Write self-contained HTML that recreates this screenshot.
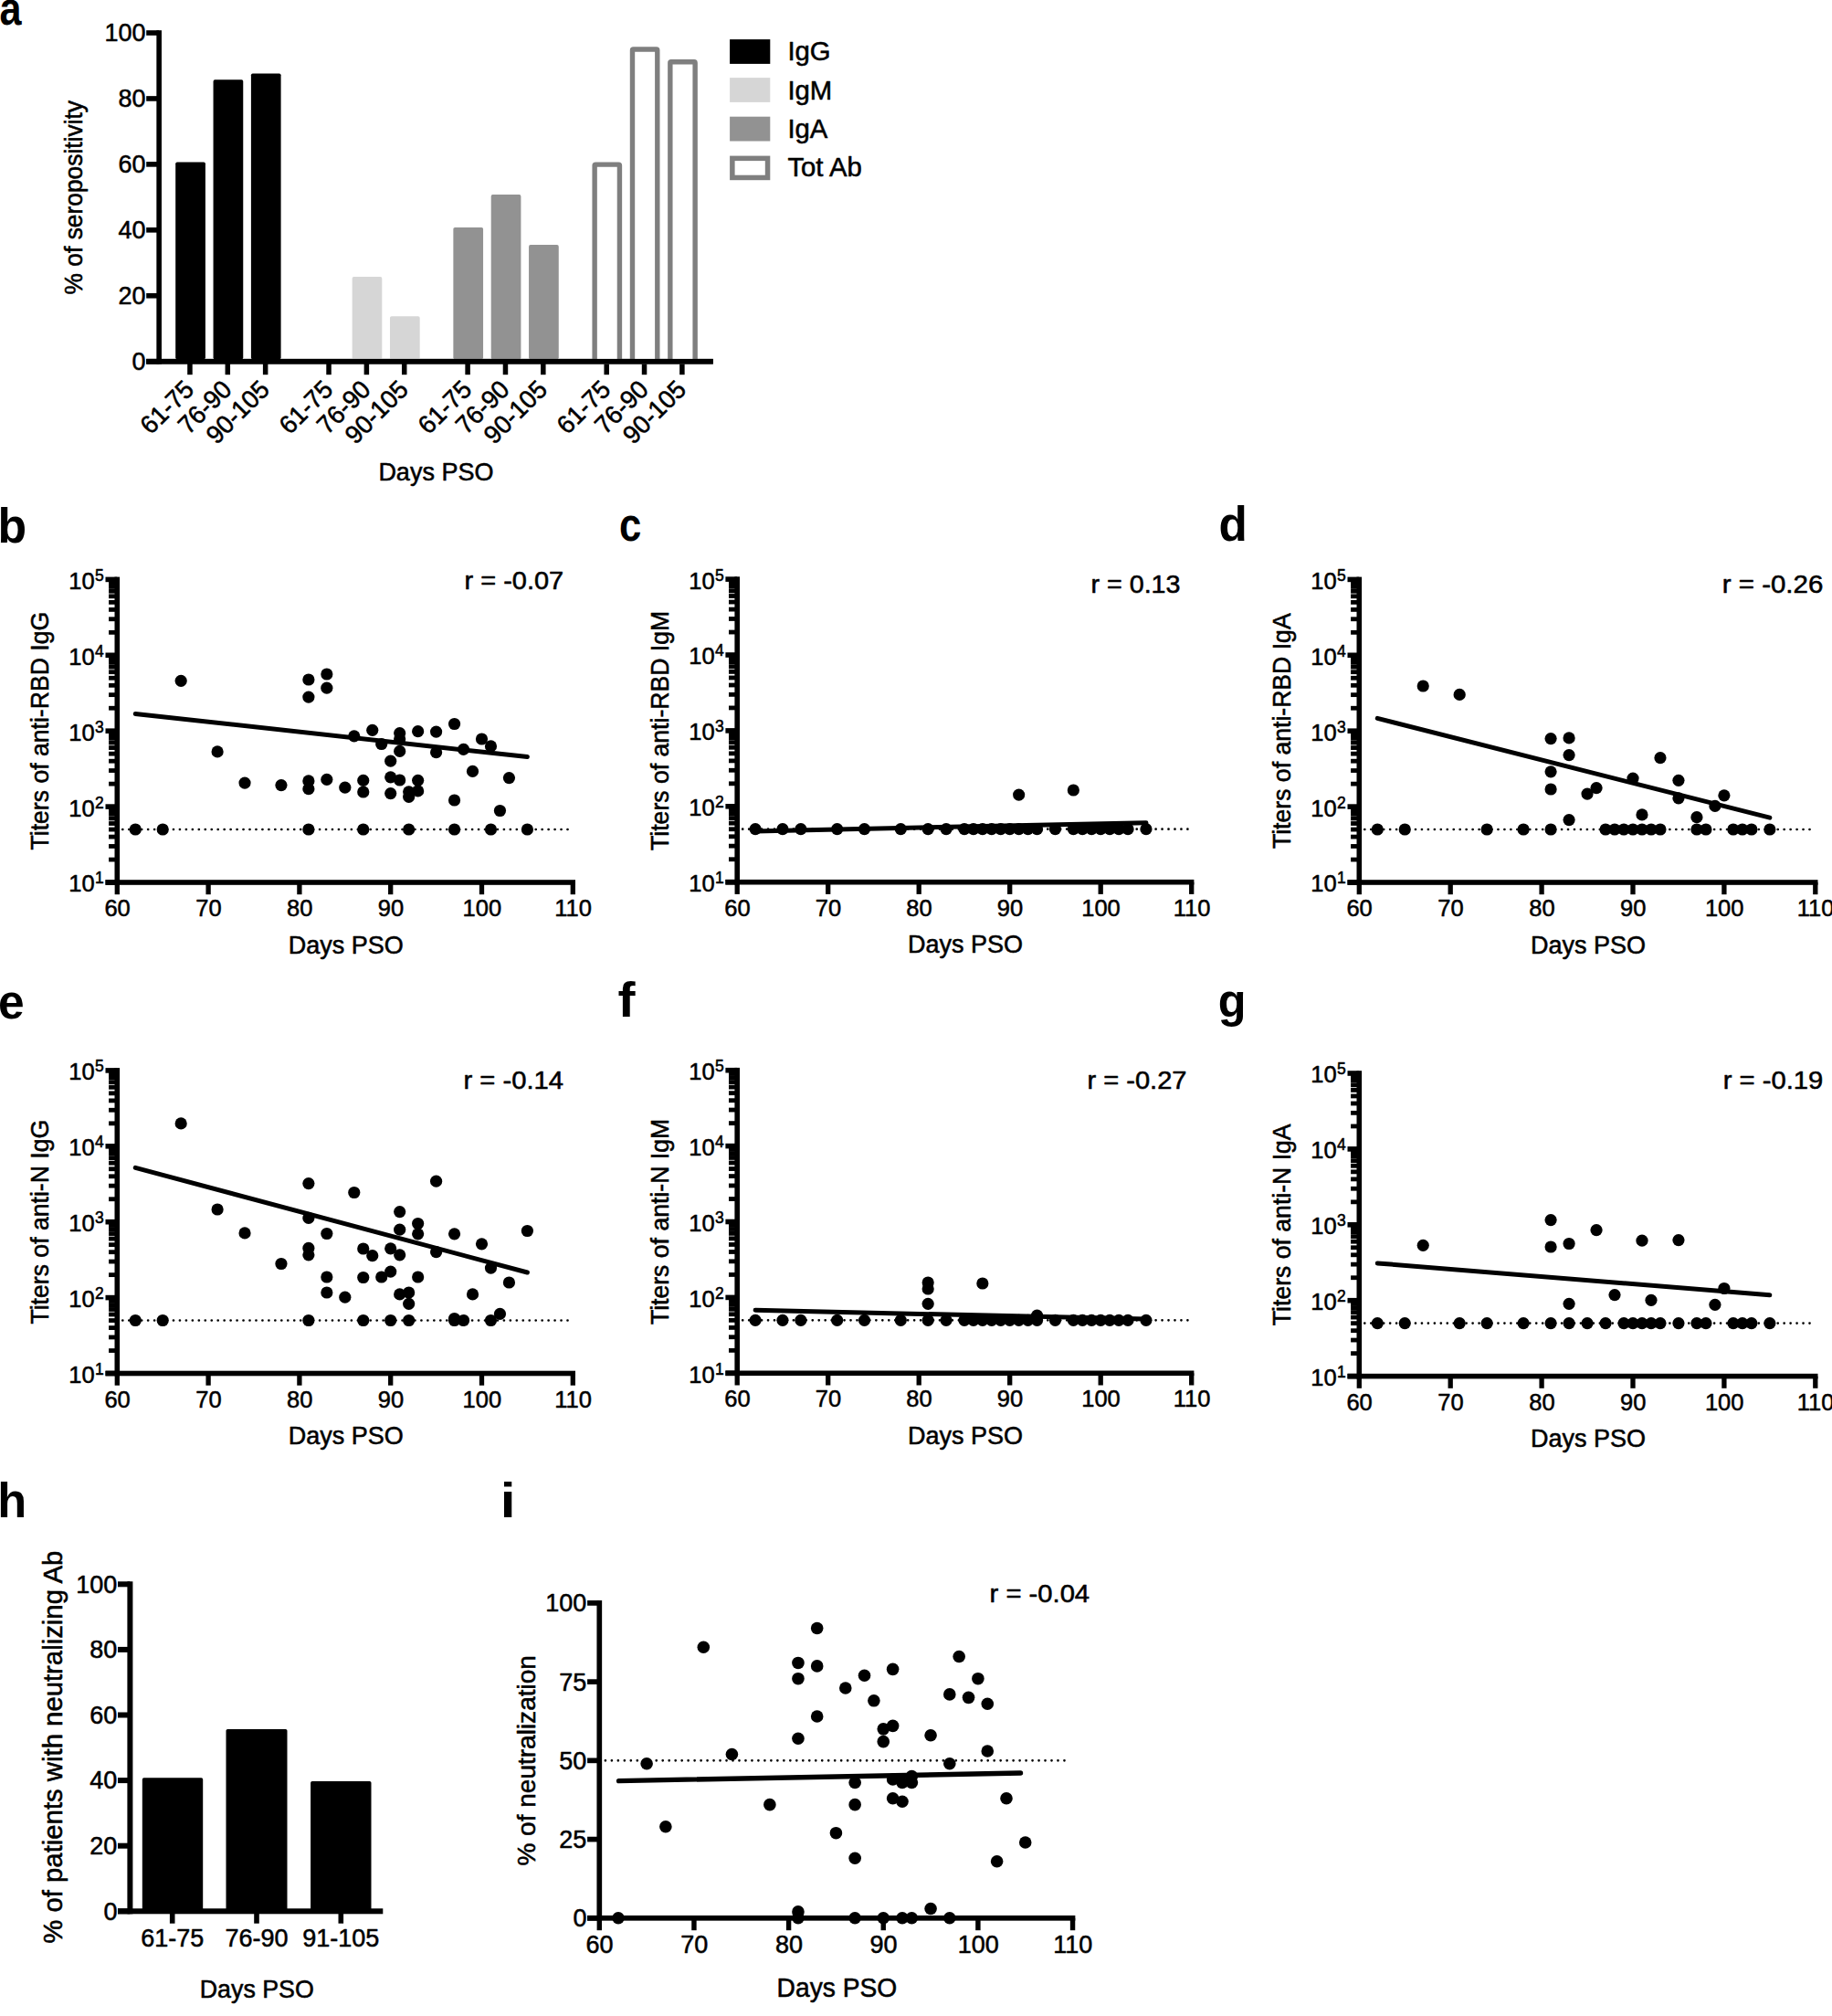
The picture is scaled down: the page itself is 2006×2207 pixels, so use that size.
<!DOCTYPE html>
<html lang="en">
<head>
<meta charset="utf-8">
<title>Figure</title>
<style>
html,body{margin:0;padding:0;background:#fff;overflow:hidden;}
svg{display:block;}
text{font-family:"Liberation Sans", Arial, Helvetica, sans-serif;fill:#000;stroke:#000;stroke-width:0.55px;stroke-linejoin:round;}
text.pl{stroke:none;}
</style>
</head>
<body>
<svg width="2006" height="2207" viewBox="0 0 2006 2207">
<rect width="2006" height="2207" fill="#fff"/>
<rect x="171.35" y="33.2" width="5.6" height="365.3" fill="#000"/>
<rect x="160.2" y="392.9" width="620.6" height="5.6" fill="#000"/>
<rect x="160.2" y="392.9" width="13.95" height="5.6" fill="#000"/>
<text x="159.6" y="404.9" font-size="27.94" text-anchor="end" textLength="15.02" lengthAdjust="spacingAndGlyphs">0</text>
<rect x="160.2" y="320.96" width="13.95" height="5.6" fill="#000"/>
<text x="159.6" y="332.96" font-size="27.94" text-anchor="end" textLength="30.03" lengthAdjust="spacingAndGlyphs">20</text>
<rect x="160.2" y="249.02" width="13.95" height="5.6" fill="#000"/>
<text x="159.6" y="261.02" font-size="27.94" text-anchor="end" textLength="30.03" lengthAdjust="spacingAndGlyphs">40</text>
<rect x="160.2" y="177.08" width="13.95" height="5.6" fill="#000"/>
<text x="159.6" y="189.08" font-size="27.94" text-anchor="end" textLength="30.03" lengthAdjust="spacingAndGlyphs">60</text>
<rect x="160.2" y="105.14" width="13.95" height="5.6" fill="#000"/>
<text x="159.6" y="117.14" font-size="27.94" text-anchor="end" textLength="30.03" lengthAdjust="spacingAndGlyphs">80</text>
<rect x="160.2" y="33.2" width="13.95" height="5.6" fill="#000"/>
<text x="159.6" y="45.2" font-size="27.94" text-anchor="end" textLength="45.05" lengthAdjust="spacingAndGlyphs">100</text>
<rect x="205.2" y="395.7" width="5.5" height="14.5" fill="#000"/>
<text x="213.95" y="428" font-size="27.94" text-anchor="end" transform="rotate(-45 213.95 428)" textLength="69.06" lengthAdjust="spacingAndGlyphs">61-75</text>
<rect x="192.2" y="177.4" width="32.7" height="216" fill="#000000" rx="1.8"/>
<rect x="246.55" y="395.7" width="5.5" height="14.5" fill="#000"/>
<text x="255.3" y="428" font-size="27.94" text-anchor="end" transform="rotate(-45 255.3 428)" textLength="69.06" lengthAdjust="spacingAndGlyphs">76-90</text>
<rect x="233.55" y="87.2" width="32.7" height="306.2" fill="#000000" rx="1.8"/>
<rect x="287.9" y="395.7" width="5.5" height="14.5" fill="#000"/>
<text x="296.65" y="428" font-size="27.94" text-anchor="end" transform="rotate(-45 296.65 428)" textLength="84.08" lengthAdjust="spacingAndGlyphs">90-105</text>
<rect x="274.9" y="80.5" width="32.7" height="312.9" fill="#000000" rx="1.8"/>
<rect x="357.28" y="395.7" width="5.5" height="14.5" fill="#000"/>
<text x="366.03" y="428" font-size="27.94" text-anchor="end" transform="rotate(-45 366.03 428)" textLength="69.06" lengthAdjust="spacingAndGlyphs">61-75</text>
<rect x="398.63" y="395.7" width="5.5" height="14.5" fill="#000"/>
<text x="407.38" y="428" font-size="27.94" text-anchor="end" transform="rotate(-45 407.38 428)" textLength="69.06" lengthAdjust="spacingAndGlyphs">76-90</text>
<rect x="385.63" y="303.1" width="32.7" height="90.3" fill="#d6d6d6" rx="1.8"/>
<rect x="439.98" y="395.7" width="5.5" height="14.5" fill="#000"/>
<text x="448.73" y="428" font-size="27.94" text-anchor="end" transform="rotate(-45 448.73 428)" textLength="84.08" lengthAdjust="spacingAndGlyphs">90-105</text>
<rect x="426.98" y="346.2" width="32.7" height="47.2" fill="#d6d6d6" rx="1.8"/>
<rect x="509.36" y="395.7" width="5.5" height="14.5" fill="#000"/>
<text x="518.11" y="428" font-size="27.94" text-anchor="end" transform="rotate(-45 518.11 428)" textLength="69.06" lengthAdjust="spacingAndGlyphs">61-75</text>
<rect x="496.36" y="248.9" width="32.7" height="144.5" fill="#929292" rx="1.8"/>
<rect x="550.71" y="395.7" width="5.5" height="14.5" fill="#000"/>
<text x="559.46" y="428" font-size="27.94" text-anchor="end" transform="rotate(-45 559.46 428)" textLength="69.06" lengthAdjust="spacingAndGlyphs">76-90</text>
<rect x="537.71" y="213.1" width="32.7" height="180.3" fill="#929292" rx="1.8"/>
<rect x="592.06" y="395.7" width="5.5" height="14.5" fill="#000"/>
<text x="600.81" y="428" font-size="27.94" text-anchor="end" transform="rotate(-45 600.81 428)" textLength="84.08" lengthAdjust="spacingAndGlyphs">90-105</text>
<rect x="579.06" y="268.1" width="32.7" height="125.3" fill="#929292" rx="1.8"/>
<rect x="661.44" y="395.7" width="5.5" height="14.5" fill="#000"/>
<text x="670.19" y="428" font-size="27.94" text-anchor="end" transform="rotate(-45 670.19 428)" textLength="69.06" lengthAdjust="spacingAndGlyphs">61-75</text>
<rect x="651.14" y="180.1" width="27.3" height="215.6" fill="#fff" stroke="#7f7f7f" stroke-width="5.4" rx="1"/>
<rect x="702.79" y="395.7" width="5.5" height="14.5" fill="#000"/>
<text x="711.54" y="428" font-size="27.94" text-anchor="end" transform="rotate(-45 711.54 428)" textLength="69.06" lengthAdjust="spacingAndGlyphs">76-90</text>
<rect x="692.49" y="54" width="27.3" height="341.7" fill="#fff" stroke="#7f7f7f" stroke-width="5.4" rx="1"/>
<rect x="744.14" y="395.7" width="5.5" height="14.5" fill="#000"/>
<text x="752.89" y="428" font-size="27.94" text-anchor="end" transform="rotate(-45 752.89 428)" textLength="84.08" lengthAdjust="spacingAndGlyphs">90-105</text>
<rect x="733.84" y="67.7" width="27.3" height="328" fill="#fff" stroke="#7f7f7f" stroke-width="5.4" rx="1"/>
<rect x="160.2" y="392.9" width="620.6" height="5.6" fill="#000"/>
<rect x="799.1" y="43.1" width="44.2" height="26.8" fill="#000000"/>
<text x="862.4" y="66.2" font-size="29.89" textLength="47.23" lengthAdjust="spacingAndGlyphs">IgG</text>
<rect x="799.1" y="85.1" width="44.2" height="26.8" fill="#d6d6d6"/>
<text x="862.4" y="108.5" font-size="29.89" textLength="48.84" lengthAdjust="spacingAndGlyphs">IgM</text>
<rect x="799.1" y="127.7" width="44.2" height="26.8" fill="#929292"/>
<text x="862.4" y="150.8" font-size="29.89" textLength="43.98" lengthAdjust="spacingAndGlyphs">IgA</text>
<rect x="801.85" y="173.35" width="38.7" height="21.1" fill="#fff" stroke="#7f7f7f" stroke-width="5.5"/>
<text x="862.4" y="193.1" font-size="29.89" textLength="81.45" lengthAdjust="spacingAndGlyphs">Tot Ab</text>
<text x="477.4" y="525.8" font-size="27.54" text-anchor="middle" textLength="126.04" lengthAdjust="spacingAndGlyphs">Days PSO</text>
<text x="90" y="216.2" font-size="27.54" text-anchor="middle" transform="rotate(-90 90 216.2)" textLength="212.5" lengthAdjust="spacingAndGlyphs">% of seropositivity</text>
<text class="pl" transform="translate(-0.38 26.6) scale(0.83 1)" font-size="52" font-weight="bold">a</text>
<rect x="125.5" y="631.6" width="5.6" height="337.2" fill="#000"/>
<rect x="115.5" y="963.2" width="514.5" height="5.6" fill="#000"/>
<rect x="115.5" y="963.2" width="12.8" height="5.6" fill="#000"/>
<text x="103.7" y="976.4" font-size="26.39" text-anchor="end" textLength="28.36" lengthAdjust="spacingAndGlyphs">10</text>
<text x="104" y="967.4" font-size="18.11" textLength="9.73" lengthAdjust="spacingAndGlyphs">1</text>
<rect x="119.1" y="938.64" width="9.2" height="4.8" fill="#000"/>
<rect x="119.1" y="924.05" width="9.2" height="4.8" fill="#000"/>
<rect x="119.1" y="913.69" width="9.2" height="4.8" fill="#000"/>
<rect x="119.1" y="905.66" width="9.2" height="4.8" fill="#000"/>
<rect x="119.1" y="899.09" width="9.2" height="4.8" fill="#000"/>
<rect x="119.1" y="893.54" width="9.2" height="4.8" fill="#000"/>
<rect x="119.1" y="888.73" width="9.2" height="4.8" fill="#000"/>
<rect x="119.1" y="884.49" width="9.2" height="4.8" fill="#000"/>
<rect x="115.5" y="880.3" width="12.8" height="5.6" fill="#000"/>
<text x="103.7" y="893.5" font-size="26.39" text-anchor="end" textLength="28.36" lengthAdjust="spacingAndGlyphs">10</text>
<text x="104" y="884.5" font-size="18.11" textLength="9.73" lengthAdjust="spacingAndGlyphs">2</text>
<rect x="119.1" y="855.74" width="9.2" height="4.8" fill="#000"/>
<rect x="119.1" y="841.15" width="9.2" height="4.8" fill="#000"/>
<rect x="119.1" y="830.79" width="9.2" height="4.8" fill="#000"/>
<rect x="119.1" y="822.76" width="9.2" height="4.8" fill="#000"/>
<rect x="119.1" y="816.19" width="9.2" height="4.8" fill="#000"/>
<rect x="119.1" y="810.64" width="9.2" height="4.8" fill="#000"/>
<rect x="119.1" y="805.83" width="9.2" height="4.8" fill="#000"/>
<rect x="119.1" y="801.59" width="9.2" height="4.8" fill="#000"/>
<rect x="115.5" y="797.4" width="12.8" height="5.6" fill="#000"/>
<text x="103.7" y="810.6" font-size="26.39" text-anchor="end" textLength="28.36" lengthAdjust="spacingAndGlyphs">10</text>
<text x="104" y="801.6" font-size="18.11" textLength="9.73" lengthAdjust="spacingAndGlyphs">3</text>
<rect x="119.1" y="772.84" width="9.2" height="4.8" fill="#000"/>
<rect x="119.1" y="758.25" width="9.2" height="4.8" fill="#000"/>
<rect x="119.1" y="747.89" width="9.2" height="4.8" fill="#000"/>
<rect x="119.1" y="739.86" width="9.2" height="4.8" fill="#000"/>
<rect x="119.1" y="733.29" width="9.2" height="4.8" fill="#000"/>
<rect x="119.1" y="727.74" width="9.2" height="4.8" fill="#000"/>
<rect x="119.1" y="722.93" width="9.2" height="4.8" fill="#000"/>
<rect x="119.1" y="718.69" width="9.2" height="4.8" fill="#000"/>
<rect x="115.5" y="714.5" width="12.8" height="5.6" fill="#000"/>
<text x="103.7" y="727.7" font-size="26.39" text-anchor="end" textLength="28.36" lengthAdjust="spacingAndGlyphs">10</text>
<text x="104" y="718.7" font-size="18.11" textLength="9.73" lengthAdjust="spacingAndGlyphs">4</text>
<rect x="119.1" y="689.94" width="9.2" height="4.8" fill="#000"/>
<rect x="119.1" y="675.35" width="9.2" height="4.8" fill="#000"/>
<rect x="119.1" y="664.99" width="9.2" height="4.8" fill="#000"/>
<rect x="119.1" y="656.96" width="9.2" height="4.8" fill="#000"/>
<rect x="119.1" y="650.39" width="9.2" height="4.8" fill="#000"/>
<rect x="119.1" y="644.84" width="9.2" height="4.8" fill="#000"/>
<rect x="119.1" y="640.03" width="9.2" height="4.8" fill="#000"/>
<rect x="119.1" y="635.79" width="9.2" height="4.8" fill="#000"/>
<rect x="115.5" y="631.6" width="12.8" height="5.6" fill="#000"/>
<text x="103.7" y="644.8" font-size="26.39" text-anchor="end" textLength="28.36" lengthAdjust="spacingAndGlyphs">10</text>
<text x="104" y="635.8" font-size="18.11" textLength="9.73" lengthAdjust="spacingAndGlyphs">5</text>
<rect x="125.65" y="966" width="5.3" height="13.2" fill="#000"/>
<text x="128.6" y="1003" font-size="26.39" text-anchor="middle" textLength="28.36" lengthAdjust="spacingAndGlyphs">60</text>
<rect x="225.45" y="966" width="5.3" height="13.2" fill="#000"/>
<text x="228.4" y="1003" font-size="26.39" text-anchor="middle" textLength="28.36" lengthAdjust="spacingAndGlyphs">70</text>
<rect x="325.25" y="966" width="5.3" height="13.2" fill="#000"/>
<text x="328.2" y="1003" font-size="26.39" text-anchor="middle" textLength="28.36" lengthAdjust="spacingAndGlyphs">80</text>
<rect x="425.05" y="966" width="5.3" height="13.2" fill="#000"/>
<text x="428" y="1003" font-size="26.39" text-anchor="middle" textLength="28.36" lengthAdjust="spacingAndGlyphs">90</text>
<rect x="524.85" y="966" width="5.3" height="13.2" fill="#000"/>
<text x="527.8" y="1003" font-size="26.39" text-anchor="middle" textLength="42.55" lengthAdjust="spacingAndGlyphs">100</text>
<rect x="624.65" y="966" width="5.3" height="13.2" fill="#000"/>
<text x="627.6" y="1003" font-size="26.39" text-anchor="middle" textLength="40.65" lengthAdjust="spacingAndGlyphs">110</text>
<text x="378.8" y="1043.6" font-size="27.54" text-anchor="middle" textLength="126.04" lengthAdjust="spacingAndGlyphs">Days PSO</text>
<text x="53.3" y="800.2" font-size="27.13" text-anchor="middle" transform="rotate(-90 53.3 800.2)" textLength="260.65" lengthAdjust="spacingAndGlyphs">Titers of anti-RBD IgG</text>
<text x="508.6" y="644.8" font-size="27.54" textLength="108.5" lengthAdjust="spacingAndGlyphs">r = -0.07</text>
<line x1="134.3" y1="908" x2="623.8" y2="908" stroke="#000" stroke-width="2.7" stroke-linecap="round" stroke-dasharray="0.01 6.95"/>
<circle cx="148.26" cy="908" r="6.6"/>
<circle cx="178.2" cy="908" r="6.6"/>
<circle cx="337.88" cy="908" r="6.6"/>
<circle cx="397.76" cy="908" r="6.6"/>
<circle cx="447.66" cy="908" r="6.6"/>
<circle cx="497.56" cy="908" r="6.6"/>
<circle cx="537.48" cy="908" r="6.6"/>
<circle cx="577.4" cy="908" r="6.6"/>
<circle cx="198.16" cy="745.3" r="6.6"/>
<circle cx="337.88" cy="744" r="6.6"/>
<circle cx="357.84" cy="738" r="6.6"/>
<circle cx="357.84" cy="753.2" r="6.6"/>
<circle cx="337.88" cy="763.1" r="6.6"/>
<circle cx="387.78" cy="805.8" r="6.6"/>
<circle cx="238.08" cy="822.9" r="6.6"/>
<circle cx="268.02" cy="857.1" r="6.6"/>
<circle cx="307.94" cy="859.6" r="6.6"/>
<circle cx="337.88" cy="854.9" r="6.6"/>
<circle cx="337.88" cy="863.7" r="6.6"/>
<circle cx="357.84" cy="853.4" r="6.6"/>
<circle cx="377.8" cy="862.2" r="6.6"/>
<circle cx="397.76" cy="854.4" r="6.6"/>
<circle cx="397.76" cy="867" r="6.6"/>
<circle cx="407.74" cy="799.3" r="6.6"/>
<circle cx="417.72" cy="814.5" r="6.6"/>
<circle cx="437.68" cy="802.6" r="6.6"/>
<circle cx="437.68" cy="809" r="6.6"/>
<circle cx="437.68" cy="822.4" r="6.6"/>
<circle cx="457.64" cy="800.7" r="6.6"/>
<circle cx="477.6" cy="801.1" r="6.6"/>
<circle cx="477.6" cy="823.7" r="6.6"/>
<circle cx="497.56" cy="792.5" r="6.6"/>
<circle cx="507.54" cy="820.4" r="6.6"/>
<circle cx="527.5" cy="809" r="6.6"/>
<circle cx="537.48" cy="816.9" r="6.6"/>
<circle cx="427.7" cy="833.2" r="6.6"/>
<circle cx="427.7" cy="850.8" r="6.6"/>
<circle cx="437.68" cy="854" r="6.6"/>
<circle cx="457.64" cy="854.3" r="6.6"/>
<circle cx="457.64" cy="865.9" r="6.6"/>
<circle cx="427.7" cy="868.6" r="6.6"/>
<circle cx="447.66" cy="866.8" r="6.6"/>
<circle cx="447.66" cy="872.3" r="6.6"/>
<circle cx="497.56" cy="876" r="6.6"/>
<circle cx="517.52" cy="844.4" r="6.6"/>
<circle cx="557.44" cy="851.6" r="6.6"/>
<circle cx="547.46" cy="887.5" r="6.6"/>
<line x1="148.26" y1="781.5" x2="577.4" y2="828.6" stroke="#000" stroke-width="5" stroke-linecap="round"/>
<text class="pl" transform="translate(-2.54 593.7) scale(0.95 1)" font-size="54.5" font-weight="bold">b</text>
<rect x="804.4" y="631.3" width="5.6" height="337.2" fill="#000"/>
<rect x="794.4" y="962.9" width="513" height="5.6" fill="#000"/>
<rect x="794.4" y="962.9" width="12.8" height="5.6" fill="#000"/>
<text x="782.6" y="976.1" font-size="26.39" text-anchor="end" textLength="28.36" lengthAdjust="spacingAndGlyphs">10</text>
<text x="782.9" y="967.1" font-size="18.11" textLength="9.73" lengthAdjust="spacingAndGlyphs">1</text>
<rect x="798" y="938.34" width="9.2" height="4.8" fill="#000"/>
<rect x="798" y="923.75" width="9.2" height="4.8" fill="#000"/>
<rect x="798" y="913.39" width="9.2" height="4.8" fill="#000"/>
<rect x="798" y="905.36" width="9.2" height="4.8" fill="#000"/>
<rect x="798" y="898.79" width="9.2" height="4.8" fill="#000"/>
<rect x="798" y="893.24" width="9.2" height="4.8" fill="#000"/>
<rect x="798" y="888.43" width="9.2" height="4.8" fill="#000"/>
<rect x="798" y="884.19" width="9.2" height="4.8" fill="#000"/>
<rect x="794.4" y="880" width="12.8" height="5.6" fill="#000"/>
<text x="782.6" y="893.2" font-size="26.39" text-anchor="end" textLength="28.36" lengthAdjust="spacingAndGlyphs">10</text>
<text x="782.9" y="884.2" font-size="18.11" textLength="9.73" lengthAdjust="spacingAndGlyphs">2</text>
<rect x="798" y="855.44" width="9.2" height="4.8" fill="#000"/>
<rect x="798" y="840.85" width="9.2" height="4.8" fill="#000"/>
<rect x="798" y="830.49" width="9.2" height="4.8" fill="#000"/>
<rect x="798" y="822.46" width="9.2" height="4.8" fill="#000"/>
<rect x="798" y="815.89" width="9.2" height="4.8" fill="#000"/>
<rect x="798" y="810.34" width="9.2" height="4.8" fill="#000"/>
<rect x="798" y="805.53" width="9.2" height="4.8" fill="#000"/>
<rect x="798" y="801.29" width="9.2" height="4.8" fill="#000"/>
<rect x="794.4" y="797.1" width="12.8" height="5.6" fill="#000"/>
<text x="782.6" y="810.3" font-size="26.39" text-anchor="end" textLength="28.36" lengthAdjust="spacingAndGlyphs">10</text>
<text x="782.9" y="801.3" font-size="18.11" textLength="9.73" lengthAdjust="spacingAndGlyphs">3</text>
<rect x="798" y="772.54" width="9.2" height="4.8" fill="#000"/>
<rect x="798" y="757.95" width="9.2" height="4.8" fill="#000"/>
<rect x="798" y="747.59" width="9.2" height="4.8" fill="#000"/>
<rect x="798" y="739.56" width="9.2" height="4.8" fill="#000"/>
<rect x="798" y="732.99" width="9.2" height="4.8" fill="#000"/>
<rect x="798" y="727.44" width="9.2" height="4.8" fill="#000"/>
<rect x="798" y="722.63" width="9.2" height="4.8" fill="#000"/>
<rect x="798" y="718.39" width="9.2" height="4.8" fill="#000"/>
<rect x="794.4" y="714.2" width="12.8" height="5.6" fill="#000"/>
<text x="782.6" y="727.4" font-size="26.39" text-anchor="end" textLength="28.36" lengthAdjust="spacingAndGlyphs">10</text>
<text x="782.9" y="718.4" font-size="18.11" textLength="9.73" lengthAdjust="spacingAndGlyphs">4</text>
<rect x="798" y="689.64" width="9.2" height="4.8" fill="#000"/>
<rect x="798" y="675.05" width="9.2" height="4.8" fill="#000"/>
<rect x="798" y="664.69" width="9.2" height="4.8" fill="#000"/>
<rect x="798" y="656.66" width="9.2" height="4.8" fill="#000"/>
<rect x="798" y="650.09" width="9.2" height="4.8" fill="#000"/>
<rect x="798" y="644.54" width="9.2" height="4.8" fill="#000"/>
<rect x="798" y="639.73" width="9.2" height="4.8" fill="#000"/>
<rect x="798" y="635.49" width="9.2" height="4.8" fill="#000"/>
<rect x="794.4" y="631.3" width="12.8" height="5.6" fill="#000"/>
<text x="782.6" y="644.5" font-size="26.39" text-anchor="end" textLength="28.36" lengthAdjust="spacingAndGlyphs">10</text>
<text x="782.9" y="635.5" font-size="18.11" textLength="9.73" lengthAdjust="spacingAndGlyphs">5</text>
<rect x="804.55" y="965.7" width="5.3" height="13.2" fill="#000"/>
<text x="807.5" y="1002.7" font-size="26.39" text-anchor="middle" textLength="28.36" lengthAdjust="spacingAndGlyphs">60</text>
<rect x="904.05" y="965.7" width="5.3" height="13.2" fill="#000"/>
<text x="907" y="1002.7" font-size="26.39" text-anchor="middle" textLength="28.36" lengthAdjust="spacingAndGlyphs">70</text>
<rect x="1003.55" y="965.7" width="5.3" height="13.2" fill="#000"/>
<text x="1006.5" y="1002.7" font-size="26.39" text-anchor="middle" textLength="28.36" lengthAdjust="spacingAndGlyphs">80</text>
<rect x="1103.05" y="965.7" width="5.3" height="13.2" fill="#000"/>
<text x="1106" y="1002.7" font-size="26.39" text-anchor="middle" textLength="28.36" lengthAdjust="spacingAndGlyphs">90</text>
<rect x="1202.55" y="965.7" width="5.3" height="13.2" fill="#000"/>
<text x="1205.5" y="1002.7" font-size="26.39" text-anchor="middle" textLength="42.55" lengthAdjust="spacingAndGlyphs">100</text>
<rect x="1302.05" y="965.7" width="5.3" height="13.2" fill="#000"/>
<text x="1305" y="1002.7" font-size="26.39" text-anchor="middle" textLength="40.65" lengthAdjust="spacingAndGlyphs">110</text>
<text x="1056.95" y="1043.3" font-size="27.54" text-anchor="middle" textLength="126.04" lengthAdjust="spacingAndGlyphs">Days PSO</text>
<text x="732.2" y="799.9" font-size="27.13" text-anchor="middle" transform="rotate(-90 732.2 799.9)" textLength="262.12" lengthAdjust="spacingAndGlyphs">Titers of anti-RBD IgM</text>
<text x="1194.5" y="649.4" font-size="27.54" textLength="98" lengthAdjust="spacingAndGlyphs">r = 0.13</text>
<line x1="813.2" y1="907.7" x2="1301.2" y2="907.7" stroke="#000" stroke-width="2.7" stroke-linecap="round" stroke-dasharray="0.01 6.95"/>
<circle cx="827.1" cy="907.7" r="6.6"/>
<circle cx="856.95" cy="907.7" r="6.6"/>
<circle cx="876.85" cy="907.7" r="6.6"/>
<circle cx="916.65" cy="907.7" r="6.6"/>
<circle cx="946.5" cy="907.7" r="6.6"/>
<circle cx="986.3" cy="907.7" r="6.6"/>
<circle cx="1016.15" cy="907.7" r="6.6"/>
<circle cx="1036.05" cy="907.7" r="6.6"/>
<circle cx="1055.95" cy="907.7" r="6.6"/>
<circle cx="1065.9" cy="907.7" r="6.6"/>
<circle cx="1075.85" cy="907.7" r="6.6"/>
<circle cx="1085.8" cy="907.7" r="6.6"/>
<circle cx="1095.75" cy="907.7" r="6.6"/>
<circle cx="1105.7" cy="907.7" r="6.6"/>
<circle cx="1115.65" cy="907.7" r="6.6"/>
<circle cx="1125.6" cy="907.7" r="6.6"/>
<circle cx="1135.55" cy="907.7" r="6.6"/>
<circle cx="1155.45" cy="907.7" r="6.6"/>
<circle cx="1175.35" cy="907.7" r="6.6"/>
<circle cx="1185.3" cy="907.7" r="6.6"/>
<circle cx="1195.25" cy="907.7" r="6.6"/>
<circle cx="1205.2" cy="907.7" r="6.6"/>
<circle cx="1215.15" cy="907.7" r="6.6"/>
<circle cx="1225.1" cy="907.7" r="6.6"/>
<circle cx="1235.05" cy="907.7" r="6.6"/>
<circle cx="1254.95" cy="907.7" r="6.6"/>
<circle cx="1115.65" cy="870.1" r="6.6"/>
<circle cx="1175.35" cy="865" r="6.6"/>
<line x1="827.1" y1="909.9" x2="1254.95" y2="900.7" stroke="#000" stroke-width="5" stroke-linecap="round"/>
<text class="pl" transform="translate(678 591.6) scale(0.84 1)" font-size="52" font-weight="bold">c</text>
<rect x="1485.5" y="631.6" width="5.6" height="337.2" fill="#000"/>
<rect x="1475.5" y="963.2" width="515" height="5.6" fill="#000"/>
<rect x="1475.5" y="963.2" width="12.8" height="5.6" fill="#000"/>
<text x="1463.7" y="976.4" font-size="26.39" text-anchor="end" textLength="28.36" lengthAdjust="spacingAndGlyphs">10</text>
<text x="1464" y="967.4" font-size="18.11" textLength="9.73" lengthAdjust="spacingAndGlyphs">1</text>
<rect x="1479.1" y="938.64" width="9.2" height="4.8" fill="#000"/>
<rect x="1479.1" y="924.05" width="9.2" height="4.8" fill="#000"/>
<rect x="1479.1" y="913.69" width="9.2" height="4.8" fill="#000"/>
<rect x="1479.1" y="905.66" width="9.2" height="4.8" fill="#000"/>
<rect x="1479.1" y="899.09" width="9.2" height="4.8" fill="#000"/>
<rect x="1479.1" y="893.54" width="9.2" height="4.8" fill="#000"/>
<rect x="1479.1" y="888.73" width="9.2" height="4.8" fill="#000"/>
<rect x="1479.1" y="884.49" width="9.2" height="4.8" fill="#000"/>
<rect x="1475.5" y="880.3" width="12.8" height="5.6" fill="#000"/>
<text x="1463.7" y="893.5" font-size="26.39" text-anchor="end" textLength="28.36" lengthAdjust="spacingAndGlyphs">10</text>
<text x="1464" y="884.5" font-size="18.11" textLength="9.73" lengthAdjust="spacingAndGlyphs">2</text>
<rect x="1479.1" y="855.74" width="9.2" height="4.8" fill="#000"/>
<rect x="1479.1" y="841.15" width="9.2" height="4.8" fill="#000"/>
<rect x="1479.1" y="830.79" width="9.2" height="4.8" fill="#000"/>
<rect x="1479.1" y="822.76" width="9.2" height="4.8" fill="#000"/>
<rect x="1479.1" y="816.19" width="9.2" height="4.8" fill="#000"/>
<rect x="1479.1" y="810.64" width="9.2" height="4.8" fill="#000"/>
<rect x="1479.1" y="805.83" width="9.2" height="4.8" fill="#000"/>
<rect x="1479.1" y="801.59" width="9.2" height="4.8" fill="#000"/>
<rect x="1475.5" y="797.4" width="12.8" height="5.6" fill="#000"/>
<text x="1463.7" y="810.6" font-size="26.39" text-anchor="end" textLength="28.36" lengthAdjust="spacingAndGlyphs">10</text>
<text x="1464" y="801.6" font-size="18.11" textLength="9.73" lengthAdjust="spacingAndGlyphs">3</text>
<rect x="1479.1" y="772.84" width="9.2" height="4.8" fill="#000"/>
<rect x="1479.1" y="758.25" width="9.2" height="4.8" fill="#000"/>
<rect x="1479.1" y="747.89" width="9.2" height="4.8" fill="#000"/>
<rect x="1479.1" y="739.86" width="9.2" height="4.8" fill="#000"/>
<rect x="1479.1" y="733.29" width="9.2" height="4.8" fill="#000"/>
<rect x="1479.1" y="727.74" width="9.2" height="4.8" fill="#000"/>
<rect x="1479.1" y="722.93" width="9.2" height="4.8" fill="#000"/>
<rect x="1479.1" y="718.69" width="9.2" height="4.8" fill="#000"/>
<rect x="1475.5" y="714.5" width="12.8" height="5.6" fill="#000"/>
<text x="1463.7" y="727.7" font-size="26.39" text-anchor="end" textLength="28.36" lengthAdjust="spacingAndGlyphs">10</text>
<text x="1464" y="718.7" font-size="18.11" textLength="9.73" lengthAdjust="spacingAndGlyphs">4</text>
<rect x="1479.1" y="689.94" width="9.2" height="4.8" fill="#000"/>
<rect x="1479.1" y="675.35" width="9.2" height="4.8" fill="#000"/>
<rect x="1479.1" y="664.99" width="9.2" height="4.8" fill="#000"/>
<rect x="1479.1" y="656.96" width="9.2" height="4.8" fill="#000"/>
<rect x="1479.1" y="650.39" width="9.2" height="4.8" fill="#000"/>
<rect x="1479.1" y="644.84" width="9.2" height="4.8" fill="#000"/>
<rect x="1479.1" y="640.03" width="9.2" height="4.8" fill="#000"/>
<rect x="1479.1" y="635.79" width="9.2" height="4.8" fill="#000"/>
<rect x="1475.5" y="631.6" width="12.8" height="5.6" fill="#000"/>
<text x="1463.7" y="644.8" font-size="26.39" text-anchor="end" textLength="28.36" lengthAdjust="spacingAndGlyphs">10</text>
<text x="1464" y="635.8" font-size="18.11" textLength="9.73" lengthAdjust="spacingAndGlyphs">5</text>
<rect x="1485.65" y="966" width="5.3" height="13.2" fill="#000"/>
<text x="1488.6" y="1003" font-size="26.39" text-anchor="middle" textLength="28.36" lengthAdjust="spacingAndGlyphs">60</text>
<rect x="1585.55" y="966" width="5.3" height="13.2" fill="#000"/>
<text x="1588.5" y="1003" font-size="26.39" text-anchor="middle" textLength="28.36" lengthAdjust="spacingAndGlyphs">70</text>
<rect x="1685.45" y="966" width="5.3" height="13.2" fill="#000"/>
<text x="1688.4" y="1003" font-size="26.39" text-anchor="middle" textLength="28.36" lengthAdjust="spacingAndGlyphs">80</text>
<rect x="1785.35" y="966" width="5.3" height="13.2" fill="#000"/>
<text x="1788.3" y="1003" font-size="26.39" text-anchor="middle" textLength="28.36" lengthAdjust="spacingAndGlyphs">90</text>
<rect x="1885.25" y="966" width="5.3" height="13.2" fill="#000"/>
<text x="1888.2" y="1003" font-size="26.39" text-anchor="middle" textLength="42.55" lengthAdjust="spacingAndGlyphs">100</text>
<rect x="1985.15" y="966" width="5.3" height="13.2" fill="#000"/>
<text x="1988.1" y="1003" font-size="26.39" text-anchor="middle" textLength="40.65" lengthAdjust="spacingAndGlyphs">110</text>
<text x="1739.05" y="1043.6" font-size="27.54" text-anchor="middle" textLength="126.04" lengthAdjust="spacingAndGlyphs">Days PSO</text>
<text x="1413.3" y="800.2" font-size="27.13" text-anchor="middle" transform="rotate(-90 1413.3 800.2)" textLength="257.71" lengthAdjust="spacingAndGlyphs">Titers of anti-RBD IgA</text>
<text x="1885.8" y="649.4" font-size="27.54" textLength="110.5" lengthAdjust="spacingAndGlyphs">r = -0.26</text>
<line x1="1494.3" y1="908" x2="1984.3" y2="908" stroke="#000" stroke-width="2.7" stroke-linecap="round" stroke-dasharray="0.01 6.95"/>
<circle cx="1508.28" cy="908" r="6.6"/>
<circle cx="1538.25" cy="908" r="6.6"/>
<circle cx="1628.16" cy="908" r="6.6"/>
<circle cx="1668.12" cy="908" r="6.6"/>
<circle cx="1698.09" cy="908" r="6.6"/>
<circle cx="1758.03" cy="908" r="6.6"/>
<circle cx="1768.02" cy="908" r="6.6"/>
<circle cx="1778.01" cy="908" r="6.6"/>
<circle cx="1788" cy="908" r="6.6"/>
<circle cx="1797.99" cy="908" r="6.6"/>
<circle cx="1807.98" cy="908" r="6.6"/>
<circle cx="1817.97" cy="908" r="6.6"/>
<circle cx="1857.93" cy="908" r="6.6"/>
<circle cx="1867.92" cy="908" r="6.6"/>
<circle cx="1897.89" cy="908" r="6.6"/>
<circle cx="1907.88" cy="908" r="6.6"/>
<circle cx="1917.87" cy="908" r="6.6"/>
<circle cx="1937.85" cy="908" r="6.6"/>
<circle cx="1558.23" cy="751" r="6.6"/>
<circle cx="1598.19" cy="760.4" r="6.6"/>
<circle cx="1698.09" cy="808.6" r="6.6"/>
<circle cx="1718.07" cy="807.9" r="6.6"/>
<circle cx="1718.07" cy="826.6" r="6.6"/>
<circle cx="1698.09" cy="844.8" r="6.6"/>
<circle cx="1698.09" cy="864" r="6.6"/>
<circle cx="1738.05" cy="869.1" r="6.6"/>
<circle cx="1748.04" cy="862.6" r="6.6"/>
<circle cx="1718.07" cy="897.6" r="6.6"/>
<circle cx="1788" cy="852.1" r="6.6"/>
<circle cx="1817.97" cy="829.7" r="6.6"/>
<circle cx="1837.95" cy="854.3" r="6.6"/>
<circle cx="1837.95" cy="873.8" r="6.6"/>
<circle cx="1887.9" cy="870.8" r="6.6"/>
<circle cx="1877.91" cy="882.4" r="6.6"/>
<circle cx="1797.99" cy="891.9" r="6.6"/>
<circle cx="1857.93" cy="894.7" r="6.6"/>
<line x1="1508.28" y1="786.4" x2="1937.85" y2="895.2" stroke="#000" stroke-width="5" stroke-linecap="round"/>
<text class="pl" transform="translate(1334.51 591.7) scale(0.94 1)" font-size="54.5" font-weight="bold">d</text>
<rect x="125.5" y="1169.1" width="5.6" height="337.2" fill="#000"/>
<rect x="115.5" y="1500.7" width="514.5" height="5.6" fill="#000"/>
<rect x="115.5" y="1500.7" width="12.8" height="5.6" fill="#000"/>
<text x="103.7" y="1513.9" font-size="26.39" text-anchor="end" textLength="28.36" lengthAdjust="spacingAndGlyphs">10</text>
<text x="104" y="1504.9" font-size="18.11" textLength="9.73" lengthAdjust="spacingAndGlyphs">1</text>
<rect x="119.1" y="1476.14" width="9.2" height="4.8" fill="#000"/>
<rect x="119.1" y="1461.55" width="9.2" height="4.8" fill="#000"/>
<rect x="119.1" y="1451.19" width="9.2" height="4.8" fill="#000"/>
<rect x="119.1" y="1443.16" width="9.2" height="4.8" fill="#000"/>
<rect x="119.1" y="1436.59" width="9.2" height="4.8" fill="#000"/>
<rect x="119.1" y="1431.04" width="9.2" height="4.8" fill="#000"/>
<rect x="119.1" y="1426.23" width="9.2" height="4.8" fill="#000"/>
<rect x="119.1" y="1421.99" width="9.2" height="4.8" fill="#000"/>
<rect x="115.5" y="1417.8" width="12.8" height="5.6" fill="#000"/>
<text x="103.7" y="1431" font-size="26.39" text-anchor="end" textLength="28.36" lengthAdjust="spacingAndGlyphs">10</text>
<text x="104" y="1422" font-size="18.11" textLength="9.73" lengthAdjust="spacingAndGlyphs">2</text>
<rect x="119.1" y="1393.24" width="9.2" height="4.8" fill="#000"/>
<rect x="119.1" y="1378.65" width="9.2" height="4.8" fill="#000"/>
<rect x="119.1" y="1368.29" width="9.2" height="4.8" fill="#000"/>
<rect x="119.1" y="1360.26" width="9.2" height="4.8" fill="#000"/>
<rect x="119.1" y="1353.69" width="9.2" height="4.8" fill="#000"/>
<rect x="119.1" y="1348.14" width="9.2" height="4.8" fill="#000"/>
<rect x="119.1" y="1343.33" width="9.2" height="4.8" fill="#000"/>
<rect x="119.1" y="1339.09" width="9.2" height="4.8" fill="#000"/>
<rect x="115.5" y="1334.9" width="12.8" height="5.6" fill="#000"/>
<text x="103.7" y="1348.1" font-size="26.39" text-anchor="end" textLength="28.36" lengthAdjust="spacingAndGlyphs">10</text>
<text x="104" y="1339.1" font-size="18.11" textLength="9.73" lengthAdjust="spacingAndGlyphs">3</text>
<rect x="119.1" y="1310.34" width="9.2" height="4.8" fill="#000"/>
<rect x="119.1" y="1295.75" width="9.2" height="4.8" fill="#000"/>
<rect x="119.1" y="1285.39" width="9.2" height="4.8" fill="#000"/>
<rect x="119.1" y="1277.36" width="9.2" height="4.8" fill="#000"/>
<rect x="119.1" y="1270.79" width="9.2" height="4.8" fill="#000"/>
<rect x="119.1" y="1265.24" width="9.2" height="4.8" fill="#000"/>
<rect x="119.1" y="1260.43" width="9.2" height="4.8" fill="#000"/>
<rect x="119.1" y="1256.19" width="9.2" height="4.8" fill="#000"/>
<rect x="115.5" y="1252" width="12.8" height="5.6" fill="#000"/>
<text x="103.7" y="1265.2" font-size="26.39" text-anchor="end" textLength="28.36" lengthAdjust="spacingAndGlyphs">10</text>
<text x="104" y="1256.2" font-size="18.11" textLength="9.73" lengthAdjust="spacingAndGlyphs">4</text>
<rect x="119.1" y="1227.44" width="9.2" height="4.8" fill="#000"/>
<rect x="119.1" y="1212.85" width="9.2" height="4.8" fill="#000"/>
<rect x="119.1" y="1202.49" width="9.2" height="4.8" fill="#000"/>
<rect x="119.1" y="1194.46" width="9.2" height="4.8" fill="#000"/>
<rect x="119.1" y="1187.89" width="9.2" height="4.8" fill="#000"/>
<rect x="119.1" y="1182.34" width="9.2" height="4.8" fill="#000"/>
<rect x="119.1" y="1177.53" width="9.2" height="4.8" fill="#000"/>
<rect x="119.1" y="1173.29" width="9.2" height="4.8" fill="#000"/>
<rect x="115.5" y="1169.1" width="12.8" height="5.6" fill="#000"/>
<text x="103.7" y="1182.3" font-size="26.39" text-anchor="end" textLength="28.36" lengthAdjust="spacingAndGlyphs">10</text>
<text x="104" y="1173.3" font-size="18.11" textLength="9.73" lengthAdjust="spacingAndGlyphs">5</text>
<rect x="125.65" y="1503.5" width="5.3" height="13.2" fill="#000"/>
<text x="128.6" y="1540.5" font-size="26.39" text-anchor="middle" textLength="28.36" lengthAdjust="spacingAndGlyphs">60</text>
<rect x="225.45" y="1503.5" width="5.3" height="13.2" fill="#000"/>
<text x="228.4" y="1540.5" font-size="26.39" text-anchor="middle" textLength="28.36" lengthAdjust="spacingAndGlyphs">70</text>
<rect x="325.25" y="1503.5" width="5.3" height="13.2" fill="#000"/>
<text x="328.2" y="1540.5" font-size="26.39" text-anchor="middle" textLength="28.36" lengthAdjust="spacingAndGlyphs">80</text>
<rect x="425.05" y="1503.5" width="5.3" height="13.2" fill="#000"/>
<text x="428" y="1540.5" font-size="26.39" text-anchor="middle" textLength="28.36" lengthAdjust="spacingAndGlyphs">90</text>
<rect x="524.85" y="1503.5" width="5.3" height="13.2" fill="#000"/>
<text x="527.8" y="1540.5" font-size="26.39" text-anchor="middle" textLength="42.55" lengthAdjust="spacingAndGlyphs">100</text>
<rect x="624.65" y="1503.5" width="5.3" height="13.2" fill="#000"/>
<text x="627.6" y="1540.5" font-size="26.39" text-anchor="middle" textLength="40.65" lengthAdjust="spacingAndGlyphs">110</text>
<text x="378.8" y="1581.1" font-size="27.54" text-anchor="middle" textLength="126.04" lengthAdjust="spacingAndGlyphs">Days PSO</text>
<text x="53.3" y="1337.7" font-size="27.13" text-anchor="middle" transform="rotate(-90 53.3 1337.7)" textLength="223.7" lengthAdjust="spacingAndGlyphs">Titers of anti-N IgG</text>
<text x="507.5" y="1192.1" font-size="27.54" textLength="109.5" lengthAdjust="spacingAndGlyphs">r = -0.14</text>
<line x1="134.3" y1="1445.5" x2="623.8" y2="1445.5" stroke="#000" stroke-width="2.7" stroke-linecap="round" stroke-dasharray="0.01 6.95"/>
<circle cx="148.26" cy="1445.5" r="6.6"/>
<circle cx="178.2" cy="1445.5" r="6.6"/>
<circle cx="337.88" cy="1445.5" r="6.6"/>
<circle cx="397.76" cy="1445.5" r="6.6"/>
<circle cx="427.7" cy="1445.5" r="6.6"/>
<circle cx="447.66" cy="1445.5" r="6.6"/>
<circle cx="497.56" cy="1445.5" r="6.6"/>
<circle cx="507.54" cy="1445.5" r="6.6"/>
<circle cx="537.48" cy="1445.5" r="6.6"/>
<circle cx="198.16" cy="1229.9" r="6.6"/>
<circle cx="337.88" cy="1295.6" r="6.6"/>
<circle cx="387.78" cy="1305.5" r="6.6"/>
<circle cx="238.08" cy="1324" r="6.6"/>
<circle cx="337.88" cy="1333.4" r="6.6"/>
<circle cx="268.02" cy="1349.9" r="6.6"/>
<circle cx="357.84" cy="1350.5" r="6.6"/>
<circle cx="337.88" cy="1366.4" r="6.6"/>
<circle cx="337.88" cy="1373.8" r="6.6"/>
<circle cx="307.94" cy="1383.5" r="6.6"/>
<circle cx="397.76" cy="1367" r="6.6"/>
<circle cx="357.84" cy="1398" r="6.6"/>
<circle cx="397.76" cy="1398.5" r="6.6"/>
<circle cx="357.84" cy="1415" r="6.6"/>
<circle cx="377.8" cy="1420.2" r="6.6"/>
<circle cx="477.6" cy="1293.2" r="6.6"/>
<circle cx="437.68" cy="1326.6" r="6.6"/>
<circle cx="457.64" cy="1339.5" r="6.6"/>
<circle cx="437.68" cy="1346.2" r="6.6"/>
<circle cx="457.64" cy="1350.8" r="6.6"/>
<circle cx="497.56" cy="1350.8" r="6.6"/>
<circle cx="577.4" cy="1347.5" r="6.6"/>
<circle cx="527.5" cy="1361.8" r="6.6"/>
<circle cx="407.74" cy="1374.7" r="6.6"/>
<circle cx="427.7" cy="1366.8" r="6.6"/>
<circle cx="437.68" cy="1373.8" r="6.6"/>
<circle cx="477.6" cy="1370.6" r="6.6"/>
<circle cx="537.48" cy="1388.1" r="6.6"/>
<circle cx="427.7" cy="1392.1" r="6.6"/>
<circle cx="417.72" cy="1398" r="6.6"/>
<circle cx="457.64" cy="1398" r="6.6"/>
<circle cx="557.44" cy="1404" r="6.6"/>
<circle cx="437.68" cy="1416.9" r="6.6"/>
<circle cx="447.66" cy="1415" r="6.6"/>
<circle cx="447.66" cy="1427.3" r="6.6"/>
<circle cx="517.52" cy="1416.9" r="6.6"/>
<circle cx="547.46" cy="1438.4" r="6.6"/>
<circle cx="497.56" cy="1443.5" r="6.6"/>
<line x1="148.26" y1="1278.4" x2="577.4" y2="1393" stroke="#000" stroke-width="5" stroke-linecap="round"/>
<text class="pl" transform="translate(-2 1115.4) scale(0.99 1)" font-size="52" font-weight="bold">e</text>
<rect x="804.4" y="1168.9" width="5.6" height="337.2" fill="#000"/>
<rect x="794.4" y="1500.5" width="513" height="5.6" fill="#000"/>
<rect x="794.4" y="1500.5" width="12.8" height="5.6" fill="#000"/>
<text x="782.6" y="1513.7" font-size="26.39" text-anchor="end" textLength="28.36" lengthAdjust="spacingAndGlyphs">10</text>
<text x="782.9" y="1504.7" font-size="18.11" textLength="9.73" lengthAdjust="spacingAndGlyphs">1</text>
<rect x="798" y="1475.94" width="9.2" height="4.8" fill="#000"/>
<rect x="798" y="1461.35" width="9.2" height="4.8" fill="#000"/>
<rect x="798" y="1450.99" width="9.2" height="4.8" fill="#000"/>
<rect x="798" y="1442.96" width="9.2" height="4.8" fill="#000"/>
<rect x="798" y="1436.39" width="9.2" height="4.8" fill="#000"/>
<rect x="798" y="1430.84" width="9.2" height="4.8" fill="#000"/>
<rect x="798" y="1426.03" width="9.2" height="4.8" fill="#000"/>
<rect x="798" y="1421.79" width="9.2" height="4.8" fill="#000"/>
<rect x="794.4" y="1417.6" width="12.8" height="5.6" fill="#000"/>
<text x="782.6" y="1430.8" font-size="26.39" text-anchor="end" textLength="28.36" lengthAdjust="spacingAndGlyphs">10</text>
<text x="782.9" y="1421.8" font-size="18.11" textLength="9.73" lengthAdjust="spacingAndGlyphs">2</text>
<rect x="798" y="1393.04" width="9.2" height="4.8" fill="#000"/>
<rect x="798" y="1378.45" width="9.2" height="4.8" fill="#000"/>
<rect x="798" y="1368.09" width="9.2" height="4.8" fill="#000"/>
<rect x="798" y="1360.06" width="9.2" height="4.8" fill="#000"/>
<rect x="798" y="1353.49" width="9.2" height="4.8" fill="#000"/>
<rect x="798" y="1347.94" width="9.2" height="4.8" fill="#000"/>
<rect x="798" y="1343.13" width="9.2" height="4.8" fill="#000"/>
<rect x="798" y="1338.89" width="9.2" height="4.8" fill="#000"/>
<rect x="794.4" y="1334.7" width="12.8" height="5.6" fill="#000"/>
<text x="782.6" y="1347.9" font-size="26.39" text-anchor="end" textLength="28.36" lengthAdjust="spacingAndGlyphs">10</text>
<text x="782.9" y="1338.9" font-size="18.11" textLength="9.73" lengthAdjust="spacingAndGlyphs">3</text>
<rect x="798" y="1310.14" width="9.2" height="4.8" fill="#000"/>
<rect x="798" y="1295.55" width="9.2" height="4.8" fill="#000"/>
<rect x="798" y="1285.19" width="9.2" height="4.8" fill="#000"/>
<rect x="798" y="1277.16" width="9.2" height="4.8" fill="#000"/>
<rect x="798" y="1270.59" width="9.2" height="4.8" fill="#000"/>
<rect x="798" y="1265.04" width="9.2" height="4.8" fill="#000"/>
<rect x="798" y="1260.23" width="9.2" height="4.8" fill="#000"/>
<rect x="798" y="1255.99" width="9.2" height="4.8" fill="#000"/>
<rect x="794.4" y="1251.8" width="12.8" height="5.6" fill="#000"/>
<text x="782.6" y="1265" font-size="26.39" text-anchor="end" textLength="28.36" lengthAdjust="spacingAndGlyphs">10</text>
<text x="782.9" y="1256" font-size="18.11" textLength="9.73" lengthAdjust="spacingAndGlyphs">4</text>
<rect x="798" y="1227.24" width="9.2" height="4.8" fill="#000"/>
<rect x="798" y="1212.65" width="9.2" height="4.8" fill="#000"/>
<rect x="798" y="1202.29" width="9.2" height="4.8" fill="#000"/>
<rect x="798" y="1194.26" width="9.2" height="4.8" fill="#000"/>
<rect x="798" y="1187.69" width="9.2" height="4.8" fill="#000"/>
<rect x="798" y="1182.14" width="9.2" height="4.8" fill="#000"/>
<rect x="798" y="1177.33" width="9.2" height="4.8" fill="#000"/>
<rect x="798" y="1173.09" width="9.2" height="4.8" fill="#000"/>
<rect x="794.4" y="1168.9" width="12.8" height="5.6" fill="#000"/>
<text x="782.6" y="1182.1" font-size="26.39" text-anchor="end" textLength="28.36" lengthAdjust="spacingAndGlyphs">10</text>
<text x="782.9" y="1173.1" font-size="18.11" textLength="9.73" lengthAdjust="spacingAndGlyphs">5</text>
<rect x="804.55" y="1503.3" width="5.3" height="13.2" fill="#000"/>
<text x="807.5" y="1540.3" font-size="26.39" text-anchor="middle" textLength="28.36" lengthAdjust="spacingAndGlyphs">60</text>
<rect x="904.05" y="1503.3" width="5.3" height="13.2" fill="#000"/>
<text x="907" y="1540.3" font-size="26.39" text-anchor="middle" textLength="28.36" lengthAdjust="spacingAndGlyphs">70</text>
<rect x="1003.55" y="1503.3" width="5.3" height="13.2" fill="#000"/>
<text x="1006.5" y="1540.3" font-size="26.39" text-anchor="middle" textLength="28.36" lengthAdjust="spacingAndGlyphs">80</text>
<rect x="1103.05" y="1503.3" width="5.3" height="13.2" fill="#000"/>
<text x="1106" y="1540.3" font-size="26.39" text-anchor="middle" textLength="28.36" lengthAdjust="spacingAndGlyphs">90</text>
<rect x="1202.55" y="1503.3" width="5.3" height="13.2" fill="#000"/>
<text x="1205.5" y="1540.3" font-size="26.39" text-anchor="middle" textLength="42.55" lengthAdjust="spacingAndGlyphs">100</text>
<rect x="1302.05" y="1503.3" width="5.3" height="13.2" fill="#000"/>
<text x="1305" y="1540.3" font-size="26.39" text-anchor="middle" textLength="40.65" lengthAdjust="spacingAndGlyphs">110</text>
<text x="1056.95" y="1580.9" font-size="27.54" text-anchor="middle" textLength="126.04" lengthAdjust="spacingAndGlyphs">Days PSO</text>
<text x="732.2" y="1337.5" font-size="27.13" text-anchor="middle" transform="rotate(-90 732.2 1337.5)" textLength="225.17" lengthAdjust="spacingAndGlyphs">Titers of anti-N IgM</text>
<text x="1190.5" y="1192.1" font-size="27.54" textLength="109" lengthAdjust="spacingAndGlyphs">r = -0.27</text>
<line x1="813.2" y1="1445.3" x2="1301.2" y2="1445.3" stroke="#000" stroke-width="2.7" stroke-linecap="round" stroke-dasharray="0.01 6.95"/>
<circle cx="827.1" cy="1445.3" r="6.6"/>
<circle cx="856.95" cy="1445.3" r="6.6"/>
<circle cx="876.85" cy="1445.3" r="6.6"/>
<circle cx="916.65" cy="1445.3" r="6.6"/>
<circle cx="946.5" cy="1445.3" r="6.6"/>
<circle cx="986.3" cy="1445.3" r="6.6"/>
<circle cx="1016.15" cy="1445.3" r="6.6"/>
<circle cx="1036.05" cy="1445.3" r="6.6"/>
<circle cx="1055.95" cy="1445.3" r="6.6"/>
<circle cx="1065.9" cy="1445.3" r="6.6"/>
<circle cx="1075.85" cy="1445.3" r="6.6"/>
<circle cx="1085.8" cy="1445.3" r="6.6"/>
<circle cx="1095.75" cy="1445.3" r="6.6"/>
<circle cx="1105.7" cy="1445.3" r="6.6"/>
<circle cx="1115.65" cy="1445.3" r="6.6"/>
<circle cx="1125.6" cy="1445.3" r="6.6"/>
<circle cx="1135.55" cy="1445.3" r="6.6"/>
<circle cx="1155.45" cy="1445.3" r="6.6"/>
<circle cx="1175.35" cy="1445.3" r="6.6"/>
<circle cx="1185.3" cy="1445.3" r="6.6"/>
<circle cx="1195.25" cy="1445.3" r="6.6"/>
<circle cx="1205.2" cy="1445.3" r="6.6"/>
<circle cx="1215.15" cy="1445.3" r="6.6"/>
<circle cx="1225.1" cy="1445.3" r="6.6"/>
<circle cx="1235.05" cy="1445.3" r="6.6"/>
<circle cx="1254.95" cy="1445.3" r="6.6"/>
<circle cx="1016.15" cy="1404" r="6.6"/>
<circle cx="1016.15" cy="1411" r="6.6"/>
<circle cx="1016.15" cy="1427.3" r="6.6"/>
<circle cx="1075.85" cy="1405" r="6.6"/>
<circle cx="1135.55" cy="1440.2" r="6.6"/>
<line x1="827.1" y1="1434.3" x2="1254.95" y2="1444" stroke="#000" stroke-width="5" stroke-linecap="round"/>
<text class="pl" transform="translate(676.54 1113.2) scale(1.05 1)" font-size="54.5" font-weight="bold">f</text>
<rect x="1485.5" y="1172.2" width="5.6" height="337.2" fill="#000"/>
<rect x="1475.5" y="1503.8" width="515" height="5.6" fill="#000"/>
<rect x="1475.5" y="1503.8" width="12.8" height="5.6" fill="#000"/>
<text x="1463.7" y="1517" font-size="26.39" text-anchor="end" textLength="28.36" lengthAdjust="spacingAndGlyphs">10</text>
<text x="1464" y="1508" font-size="18.11" textLength="9.73" lengthAdjust="spacingAndGlyphs">1</text>
<rect x="1479.1" y="1479.24" width="9.2" height="4.8" fill="#000"/>
<rect x="1479.1" y="1464.65" width="9.2" height="4.8" fill="#000"/>
<rect x="1479.1" y="1454.29" width="9.2" height="4.8" fill="#000"/>
<rect x="1479.1" y="1446.26" width="9.2" height="4.8" fill="#000"/>
<rect x="1479.1" y="1439.69" width="9.2" height="4.8" fill="#000"/>
<rect x="1479.1" y="1434.14" width="9.2" height="4.8" fill="#000"/>
<rect x="1479.1" y="1429.33" width="9.2" height="4.8" fill="#000"/>
<rect x="1479.1" y="1425.09" width="9.2" height="4.8" fill="#000"/>
<rect x="1475.5" y="1420.9" width="12.8" height="5.6" fill="#000"/>
<text x="1463.7" y="1434.1" font-size="26.39" text-anchor="end" textLength="28.36" lengthAdjust="spacingAndGlyphs">10</text>
<text x="1464" y="1425.1" font-size="18.11" textLength="9.73" lengthAdjust="spacingAndGlyphs">2</text>
<rect x="1479.1" y="1396.34" width="9.2" height="4.8" fill="#000"/>
<rect x="1479.1" y="1381.75" width="9.2" height="4.8" fill="#000"/>
<rect x="1479.1" y="1371.39" width="9.2" height="4.8" fill="#000"/>
<rect x="1479.1" y="1363.36" width="9.2" height="4.8" fill="#000"/>
<rect x="1479.1" y="1356.79" width="9.2" height="4.8" fill="#000"/>
<rect x="1479.1" y="1351.24" width="9.2" height="4.8" fill="#000"/>
<rect x="1479.1" y="1346.43" width="9.2" height="4.8" fill="#000"/>
<rect x="1479.1" y="1342.19" width="9.2" height="4.8" fill="#000"/>
<rect x="1475.5" y="1338" width="12.8" height="5.6" fill="#000"/>
<text x="1463.7" y="1351.2" font-size="26.39" text-anchor="end" textLength="28.36" lengthAdjust="spacingAndGlyphs">10</text>
<text x="1464" y="1342.2" font-size="18.11" textLength="9.73" lengthAdjust="spacingAndGlyphs">3</text>
<rect x="1479.1" y="1313.44" width="9.2" height="4.8" fill="#000"/>
<rect x="1479.1" y="1298.85" width="9.2" height="4.8" fill="#000"/>
<rect x="1479.1" y="1288.49" width="9.2" height="4.8" fill="#000"/>
<rect x="1479.1" y="1280.46" width="9.2" height="4.8" fill="#000"/>
<rect x="1479.1" y="1273.89" width="9.2" height="4.8" fill="#000"/>
<rect x="1479.1" y="1268.34" width="9.2" height="4.8" fill="#000"/>
<rect x="1479.1" y="1263.53" width="9.2" height="4.8" fill="#000"/>
<rect x="1479.1" y="1259.29" width="9.2" height="4.8" fill="#000"/>
<rect x="1475.5" y="1255.1" width="12.8" height="5.6" fill="#000"/>
<text x="1463.7" y="1268.3" font-size="26.39" text-anchor="end" textLength="28.36" lengthAdjust="spacingAndGlyphs">10</text>
<text x="1464" y="1259.3" font-size="18.11" textLength="9.73" lengthAdjust="spacingAndGlyphs">4</text>
<rect x="1479.1" y="1230.54" width="9.2" height="4.8" fill="#000"/>
<rect x="1479.1" y="1215.95" width="9.2" height="4.8" fill="#000"/>
<rect x="1479.1" y="1205.59" width="9.2" height="4.8" fill="#000"/>
<rect x="1479.1" y="1197.56" width="9.2" height="4.8" fill="#000"/>
<rect x="1479.1" y="1190.99" width="9.2" height="4.8" fill="#000"/>
<rect x="1479.1" y="1185.44" width="9.2" height="4.8" fill="#000"/>
<rect x="1479.1" y="1180.63" width="9.2" height="4.8" fill="#000"/>
<rect x="1479.1" y="1176.39" width="9.2" height="4.8" fill="#000"/>
<rect x="1475.5" y="1172.2" width="12.8" height="5.6" fill="#000"/>
<text x="1463.7" y="1185.4" font-size="26.39" text-anchor="end" textLength="28.36" lengthAdjust="spacingAndGlyphs">10</text>
<text x="1464" y="1176.4" font-size="18.11" textLength="9.73" lengthAdjust="spacingAndGlyphs">5</text>
<rect x="1485.65" y="1506.6" width="5.3" height="13.2" fill="#000"/>
<text x="1488.6" y="1543.6" font-size="26.39" text-anchor="middle" textLength="28.36" lengthAdjust="spacingAndGlyphs">60</text>
<rect x="1585.55" y="1506.6" width="5.3" height="13.2" fill="#000"/>
<text x="1588.5" y="1543.6" font-size="26.39" text-anchor="middle" textLength="28.36" lengthAdjust="spacingAndGlyphs">70</text>
<rect x="1685.45" y="1506.6" width="5.3" height="13.2" fill="#000"/>
<text x="1688.4" y="1543.6" font-size="26.39" text-anchor="middle" textLength="28.36" lengthAdjust="spacingAndGlyphs">80</text>
<rect x="1785.35" y="1506.6" width="5.3" height="13.2" fill="#000"/>
<text x="1788.3" y="1543.6" font-size="26.39" text-anchor="middle" textLength="28.36" lengthAdjust="spacingAndGlyphs">90</text>
<rect x="1885.25" y="1506.6" width="5.3" height="13.2" fill="#000"/>
<text x="1888.2" y="1543.6" font-size="26.39" text-anchor="middle" textLength="42.55" lengthAdjust="spacingAndGlyphs">100</text>
<rect x="1985.15" y="1506.6" width="5.3" height="13.2" fill="#000"/>
<text x="1988.1" y="1543.6" font-size="26.39" text-anchor="middle" textLength="40.65" lengthAdjust="spacingAndGlyphs">110</text>
<text x="1739.05" y="1584.2" font-size="27.54" text-anchor="middle" textLength="126.04" lengthAdjust="spacingAndGlyphs">Days PSO</text>
<text x="1413.3" y="1340.8" font-size="27.13" text-anchor="middle" transform="rotate(-90 1413.3 1340.8)" textLength="220.75" lengthAdjust="spacingAndGlyphs">Titers of anti-N IgA</text>
<text x="1886.8" y="1192.1" font-size="27.54" textLength="109.5" lengthAdjust="spacingAndGlyphs">r = -0.19</text>
<line x1="1494.3" y1="1448.6" x2="1984.3" y2="1448.6" stroke="#000" stroke-width="2.7" stroke-linecap="round" stroke-dasharray="0.01 6.95"/>
<circle cx="1508.28" cy="1448.6" r="6.6"/>
<circle cx="1538.25" cy="1448.6" r="6.6"/>
<circle cx="1598.19" cy="1448.6" r="6.6"/>
<circle cx="1628.16" cy="1448.6" r="6.6"/>
<circle cx="1668.12" cy="1448.6" r="6.6"/>
<circle cx="1698.09" cy="1448.6" r="6.6"/>
<circle cx="1718.07" cy="1448.6" r="6.6"/>
<circle cx="1738.05" cy="1448.6" r="6.6"/>
<circle cx="1758.03" cy="1448.6" r="6.6"/>
<circle cx="1778.01" cy="1448.6" r="6.6"/>
<circle cx="1788" cy="1448.6" r="6.6"/>
<circle cx="1797.99" cy="1448.6" r="6.6"/>
<circle cx="1807.98" cy="1448.6" r="6.6"/>
<circle cx="1817.97" cy="1448.6" r="6.6"/>
<circle cx="1837.95" cy="1448.6" r="6.6"/>
<circle cx="1857.93" cy="1448.6" r="6.6"/>
<circle cx="1867.92" cy="1448.6" r="6.6"/>
<circle cx="1897.89" cy="1448.6" r="6.6"/>
<circle cx="1907.88" cy="1448.6" r="6.6"/>
<circle cx="1917.87" cy="1448.6" r="6.6"/>
<circle cx="1937.85" cy="1448.6" r="6.6"/>
<circle cx="1558.23" cy="1363.3" r="6.6"/>
<circle cx="1698.09" cy="1335.6" r="6.6"/>
<circle cx="1748.04" cy="1346.6" r="6.6"/>
<circle cx="1698.09" cy="1365" r="6.6"/>
<circle cx="1718.07" cy="1361.5" r="6.6"/>
<circle cx="1718.07" cy="1427.3" r="6.6"/>
<circle cx="1797.99" cy="1358.2" r="6.6"/>
<circle cx="1837.95" cy="1357.6" r="6.6"/>
<circle cx="1768.02" cy="1417.6" r="6.6"/>
<circle cx="1807.98" cy="1423.3" r="6.6"/>
<circle cx="1887.9" cy="1410.5" r="6.6"/>
<circle cx="1877.91" cy="1428.3" r="6.6"/>
<line x1="1508.28" y1="1382.9" x2="1937.85" y2="1417.8" stroke="#000" stroke-width="5" stroke-linecap="round"/>
<text class="pl" transform="translate(1333.66 1113.2) scale(0.97 1)" font-size="52" font-weight="bold">g</text>
<rect x="139.4" y="1731.3" width="6" height="364" fill="#000"/>
<rect x="129" y="2089.3" width="290.3" height="6" fill="#000"/>
<rect x="129" y="2089.3" width="13.4" height="6" fill="#000"/>
<text x="128.4" y="2101.5" font-size="27.94" text-anchor="end" textLength="15.02" lengthAdjust="spacingAndGlyphs">0</text>
<rect x="129" y="2017.7" width="13.4" height="6" fill="#000"/>
<text x="128.4" y="2029.9" font-size="27.94" text-anchor="end" textLength="30.03" lengthAdjust="spacingAndGlyphs">20</text>
<rect x="129" y="1946.1" width="13.4" height="6" fill="#000"/>
<text x="128.4" y="1958.3" font-size="27.94" text-anchor="end" textLength="30.03" lengthAdjust="spacingAndGlyphs">40</text>
<rect x="129" y="1874.5" width="13.4" height="6" fill="#000"/>
<text x="128.4" y="1886.7" font-size="27.94" text-anchor="end" textLength="30.03" lengthAdjust="spacingAndGlyphs">60</text>
<rect x="129" y="1802.9" width="13.4" height="6" fill="#000"/>
<text x="128.4" y="1815.1" font-size="27.94" text-anchor="end" textLength="30.03" lengthAdjust="spacingAndGlyphs">80</text>
<rect x="129" y="1731.3" width="13.4" height="6" fill="#000"/>
<text x="128.4" y="1743.5" font-size="27.94" text-anchor="end" textLength="45.05" lengthAdjust="spacingAndGlyphs">100</text>
<rect x="155.8" y="1946.2" width="66.4" height="146.1" fill="#000" rx="1.8"/>
<rect x="247.5" y="1892.9" width="67" height="199.4" fill="#000" rx="1.8"/>
<rect x="340.1" y="1949.9" width="66.4" height="142.4" fill="#000" rx="1.8"/>
<rect x="185.9" y="2092.3" width="5.6" height="13.4" fill="#000"/>
<text x="188.7" y="2130.5" font-size="27.94" text-anchor="middle" textLength="69.06" lengthAdjust="spacingAndGlyphs">61-75</text>
<rect x="278.2" y="2092.3" width="5.6" height="13.4" fill="#000"/>
<text x="281" y="2130.5" font-size="27.94" text-anchor="middle" textLength="69.06" lengthAdjust="spacingAndGlyphs">76-90</text>
<rect x="370.5" y="2092.3" width="5.6" height="13.4" fill="#000"/>
<text x="373.3" y="2130.5" font-size="27.94" text-anchor="middle" textLength="84.08" lengthAdjust="spacingAndGlyphs">91-105</text>
<text x="281.3" y="2187.3" font-size="27.34" text-anchor="middle" textLength="125.1" lengthAdjust="spacingAndGlyphs">Days PSO</text>
<text x="68.4" y="1912.7" font-size="29.89" text-anchor="middle" transform="rotate(-90 68.4 1912.7)" textLength="430" lengthAdjust="spacingAndGlyphs">% of patients with neutralizing Ab</text>
<text class="pl" transform="translate(-2.77 1660.8) scale(0.96 1)" font-size="54.5" font-weight="bold">h</text>
<rect x="653.45" y="1752.05" width="5.7" height="350.6" fill="#000"/>
<rect x="643.1" y="2096.95" width="534.25" height="5.7" fill="#000"/>
<rect x="643.1" y="2096.95" width="13.2" height="5.7" fill="#000"/>
<text x="642.4" y="2109.2" font-size="27.94" text-anchor="end" textLength="15.02" lengthAdjust="spacingAndGlyphs">0</text>
<rect x="643.1" y="2010.73" width="13.2" height="5.7" fill="#000"/>
<text x="642.4" y="2022.98" font-size="27.94" text-anchor="end" textLength="30.03" lengthAdjust="spacingAndGlyphs">25</text>
<rect x="643.1" y="1924.5" width="13.2" height="5.7" fill="#000"/>
<text x="642.4" y="1936.75" font-size="27.94" text-anchor="end" textLength="30.03" lengthAdjust="spacingAndGlyphs">50</text>
<rect x="643.1" y="1838.28" width="13.2" height="5.7" fill="#000"/>
<text x="642.4" y="1850.53" font-size="27.94" text-anchor="end" textLength="30.03" lengthAdjust="spacingAndGlyphs">75</text>
<rect x="643.1" y="1752.05" width="13.2" height="5.7" fill="#000"/>
<text x="642.4" y="1764.3" font-size="27.94" text-anchor="end" textLength="45.05" lengthAdjust="spacingAndGlyphs">100</text>
<rect x="653.6" y="2099.8" width="5.4" height="13.4" fill="#000"/>
<text x="656.6" y="2137.8" font-size="27.94" text-anchor="middle" textLength="30.03" lengthAdjust="spacingAndGlyphs">60</text>
<rect x="757.25" y="2099.8" width="5.4" height="13.4" fill="#000"/>
<text x="760.25" y="2137.8" font-size="27.94" text-anchor="middle" textLength="30.03" lengthAdjust="spacingAndGlyphs">70</text>
<rect x="860.9" y="2099.8" width="5.4" height="13.4" fill="#000"/>
<text x="863.9" y="2137.8" font-size="27.94" text-anchor="middle" textLength="30.03" lengthAdjust="spacingAndGlyphs">80</text>
<rect x="964.55" y="2099.8" width="5.4" height="13.4" fill="#000"/>
<text x="967.55" y="2137.8" font-size="27.94" text-anchor="middle" textLength="30.03" lengthAdjust="spacingAndGlyphs">90</text>
<rect x="1068.2" y="2099.8" width="5.4" height="13.4" fill="#000"/>
<text x="1071.2" y="2137.8" font-size="27.94" text-anchor="middle" textLength="45.05" lengthAdjust="spacingAndGlyphs">100</text>
<rect x="1171.85" y="2099.8" width="5.4" height="13.4" fill="#000"/>
<text x="1174.85" y="2137.8" font-size="27.94" text-anchor="middle" textLength="43.05" lengthAdjust="spacingAndGlyphs">110</text>
<text x="916.42" y="2185.5" font-size="28.76" text-anchor="middle" textLength="131.64" lengthAdjust="spacingAndGlyphs">Days PSO</text>
<text x="585.7" y="1927.35" font-size="28.56" text-anchor="middle" transform="rotate(-90 585.7 1927.35)" textLength="230.5" lengthAdjust="spacingAndGlyphs">% of neutralization</text>
<text x="1083.6" y="1753.9" font-size="28.05" textLength="109.5" lengthAdjust="spacingAndGlyphs">r = -0.04</text>
<line x1="662.9" y1="1927.35" x2="1170.4" y2="1927.35" stroke="#000" stroke-width="2.7" stroke-linecap="round" stroke-dasharray="0.01 6.97"/>
<circle cx="677.03" cy="2099.8" r="6.8"/>
<circle cx="708.12" cy="1930.8" r="6.8"/>
<circle cx="728.86" cy="1999.78" r="6.8"/>
<circle cx="770.31" cy="1803.19" r="6.8"/>
<circle cx="801.41" cy="1920.45" r="6.8"/>
<circle cx="842.87" cy="1975.64" r="6.8"/>
<circle cx="873.96" cy="1820.43" r="6.8"/>
<circle cx="873.96" cy="1837.68" r="6.8"/>
<circle cx="873.96" cy="1903.21" r="6.8"/>
<circle cx="873.96" cy="2092.9" r="6.8"/>
<circle cx="873.96" cy="2099.8" r="6.8"/>
<circle cx="894.69" cy="1782.49" r="6.8"/>
<circle cx="894.69" cy="1823.88" r="6.8"/>
<circle cx="894.69" cy="1879.06" r="6.8"/>
<circle cx="915.42" cy="2006.68" r="6.8"/>
<circle cx="925.79" cy="1848.02" r="6.8"/>
<circle cx="936.15" cy="1951.49" r="6.8"/>
<circle cx="936.15" cy="1975.64" r="6.8"/>
<circle cx="936.15" cy="2034.27" r="6.8"/>
<circle cx="936.15" cy="2099.8" r="6.8"/>
<circle cx="946.52" cy="1834.23" r="6.8"/>
<circle cx="956.88" cy="1861.82" r="6.8"/>
<circle cx="967.25" cy="1892.86" r="6.8"/>
<circle cx="967.25" cy="1906.66" r="6.8"/>
<circle cx="967.25" cy="2099.8" r="6.8"/>
<circle cx="977.62" cy="1827.33" r="6.8"/>
<circle cx="977.62" cy="1889.41" r="6.8"/>
<circle cx="977.62" cy="1948.04" r="6.8"/>
<circle cx="977.62" cy="1968.74" r="6.8"/>
<circle cx="987.98" cy="1951.49" r="6.8"/>
<circle cx="987.98" cy="1972.19" r="6.8"/>
<circle cx="987.98" cy="2099.8" r="6.8"/>
<circle cx="998.35" cy="1944.6" r="6.8"/>
<circle cx="998.35" cy="1951.49" r="6.8"/>
<circle cx="998.35" cy="2099.8" r="6.8"/>
<circle cx="1019.08" cy="1899.76" r="6.8"/>
<circle cx="1019.08" cy="2089.45" r="6.8"/>
<circle cx="1039.8" cy="1854.92" r="6.8"/>
<circle cx="1039.8" cy="1930.8" r="6.8"/>
<circle cx="1039.8" cy="2099.8" r="6.8"/>
<circle cx="1050.17" cy="1813.53" r="6.8"/>
<circle cx="1060.53" cy="1858.37" r="6.8"/>
<circle cx="1070.9" cy="1837.68" r="6.8"/>
<circle cx="1081.26" cy="1865.27" r="6.8"/>
<circle cx="1081.26" cy="1917" r="6.8"/>
<circle cx="1091.63" cy="2037.72" r="6.8"/>
<circle cx="1101.99" cy="1968.74" r="6.8"/>
<circle cx="1122.72" cy="2017.02" r="6.8"/>
<line x1="677.6" y1="1949.6" x2="1117.5" y2="1941" stroke="#000" stroke-width="5.4" stroke-linecap="round"/>
<text class="pl" transform="translate(547.63 1660.8) scale(1.11 1)" font-size="54.5" font-weight="bold">i</text>
</svg>
</body>
</html>
